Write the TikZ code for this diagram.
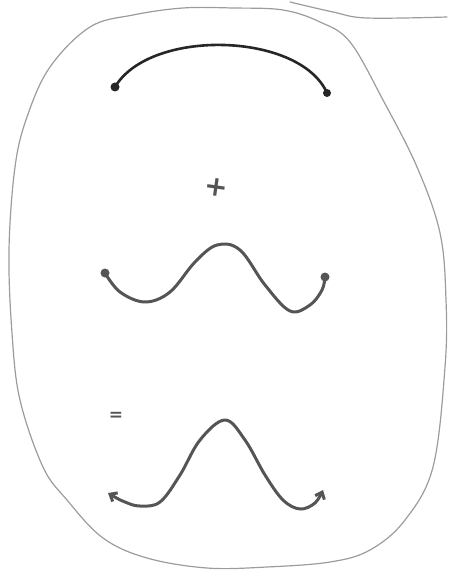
\documentclass[tikz,border=0pt]{standalone}
\usepackage{fontspec}
\newfontfamily\signfont{DejaVu Sans}
\usetikzlibrary{arrows.meta}
\definecolor{InkDark}{HTML}{262626}
\definecolor{InkGray}{HTML}{555555}
\definecolor{PencilGray}{HTML}{9C9C9C}

\begin{document}
\begin{tikzpicture}[x=1pt,y=-1pt,
    pencil/.style={PencilGray,line width=1.2pt,line cap=round},
    inkline/.style={InkGray,line width=3pt,line cap=round,line join=round},
    blob/.style={circle,fill=InkGray,inner sep=0pt,minimum size=9pt},
    sign/.style={InkGray,font=\signfont\bfseries\fontsize{28}{30}\selectfont,inner sep=0pt}]
  \useasboundingbox (0,0) rectangle (448,580);
  % the pencil outline
  \draw[pencil] plot[smooth cycle,tension=0.6] coordinates {
    (27,117) (50,67) (90,27) (133,15) (183,8) (233,8) (283,10) (320,22)
    (350,42) (383,100) (417,167) (440,233) (446,300) (445,367) (433,467)
    (405,520) (370,550) (330,562) (267,567) (207,568) (147,558) (103,538)
    (67,500) (43,467) (20,400) (12,333) (9,250) (15,167)};
  \draw[pencil] plot[smooth,tension=0.6] coordinates {(290,2) (333,12) (367,18) (447,17)};
  % top arc
  \coordinate (arcL) at (115,87);
  \coordinate (arcR) at (327,93);
  \draw[inkline,InkDark,line width=2.6pt] (arcL) .. controls (150,28) and (300,32) .. (arcR);
  \node[blob,fill=InkDark] (dotA) at (arcL) {};
  \node[blob,fill=InkDark,minimum size=8pt] (dotB) at (arcR) {};
  % plus
  \node[sign,rotate=-8] (plus) at (216,187) {+};
  % first wave
  \coordinate (waveL) at (105,273);
  \coordinate (waveR) at (325,277);
  \draw[inkline] plot[smooth,tension=0.6] coordinates {
    (waveL) (120,292) (145,302) (170,292) (195,262) (217,245) (240,250)
    (265,285) (290,311) (310,305) (322,290) (waveR)};
  \node[blob] (dotC) at (waveL) {};
  \node[blob] (dotD) at (waveR) {};
  % equals
  \node[sign,font=\signfont\bfseries\fontsize{17}{19}\selectfont] (equals) at (116,416) {=};
  % second wave
  \coordinate (sumL) at (108,493);
  \coordinate (sumR) at (323,490);
  \draw[inkline,{Straight Barb[length=6pt,width=10pt]}-{Straight Barb[length=6pt,width=10pt]}]
    plot[smooth,tension=0.6] coordinates {
    (sumL) (125,502) (140,506) (160,502) (180,475) (200,440) (225,420)
    (245,440) (265,475) (283,500) (300,509) (315,503) (sumR)};
\end{tikzpicture}
\end{document}
